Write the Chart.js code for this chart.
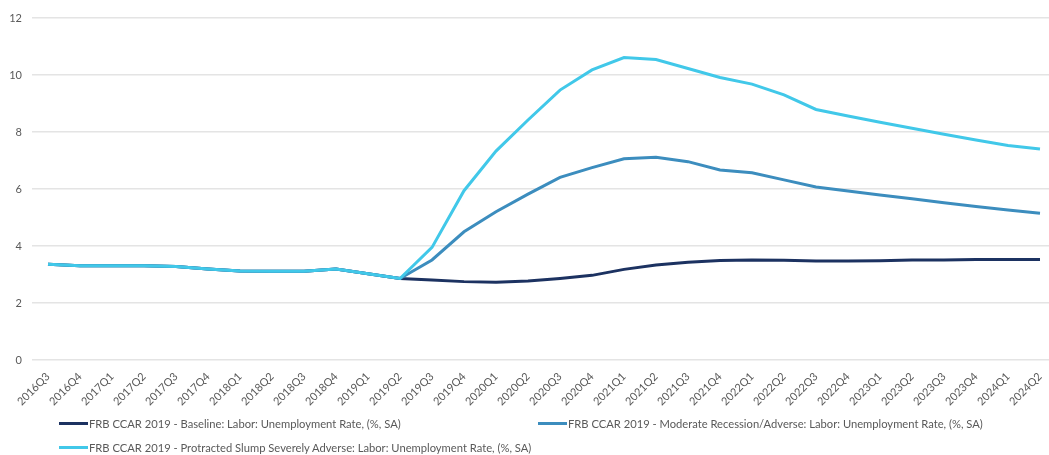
<!DOCTYPE html>
<html>
<head>
    <title>FRB CCAR 2019 Unemployment Rate Scenarios</title>
    <script src="https://cdn.jsdelivr.net/npm/chart.js"></script>
    <style>
        html, body {
            margin: 0;
            padding: 0;
            background: #ffffff;
            overflow: hidden;
        }

        .chart-wrap {
            position: relative;
            width: 1060px;
            height: 455px;
        }

        .chart-container {
            position: absolute;
            left: 0;
            top: 0;
            width: 1060px;
            height: 455px;
        }

        .legend-item {
            position: absolute;
            display: flex;
            align-items: center;
            font-family: Lato, "Open Sans", sans-serif;
            font-size: 11.2px;
            color: #595959;
            white-space: nowrap;
        }

        .legend-swatch {
            display: inline-block;
            width: 29px;
            height: 3px;
            margin-right: 1px;
        }
    </style>
</head>
<body>
<div class="chart-wrap">
    <div class="chart-container">
        <canvas id="unemploymentChart"></canvas>
    </div>
    <div id="legend"></div>
</div>
<script>
    const quarters = [
        '2016Q3', '2016Q4',
        '2017Q1', '2017Q2', '2017Q3', '2017Q4',
        '2018Q1', '2018Q2', '2018Q3', '2018Q4',
        '2019Q1', '2019Q2', '2019Q3', '2019Q4',
        '2020Q1', '2020Q2', '2020Q3', '2020Q4',
        '2021Q1', '2021Q2', '2021Q3', '2021Q4',
        '2022Q1', '2022Q2', '2022Q3', '2022Q4',
        '2023Q1', '2023Q2', '2023Q3', '2023Q4',
        '2024Q1', '2024Q2'
    ];

    // unemployment rate, %, one value per quarter
    const baseline = [
        3.36, 3.31, 3.31, 3.31, 3.28, 3.19, 3.12, 3.11, 3.11, 3.19,
        3.03, 2.86, 2.81, 2.75, 2.73, 2.77, 2.86, 2.97, 3.18, 3.33,
        3.43, 3.49, 3.51, 3.50, 3.47, 3.47, 3.48, 3.51, 3.51, 3.53,
        3.53, 3.53
    ];

    const moderateAdverse = [
        3.36, 3.31, 3.31, 3.31, 3.28, 3.19, 3.12, 3.11, 3.11, 3.19,
        3.03, 2.86, 3.51, 4.50, 5.20, 5.82, 6.41, 6.75, 7.06, 7.11,
        6.96, 6.67, 6.57, 6.32, 6.07, 5.93, 5.79, 5.66, 5.52, 5.39,
        5.26, 5.15
    ];

    const severelyAdverse = [
        3.36, 3.31, 3.31, 3.31, 3.28, 3.19, 3.12, 3.11, 3.11, 3.19,
        3.03, 2.86, 3.95, 5.94, 7.33, 8.42, 9.47, 10.18, 10.61, 10.54,
        10.23, 9.91, 9.68, 9.30, 8.79, 8.56, 8.34, 8.13, 7.92, 7.72,
        7.53, 7.40
    ];

    const seriesNames = [
        'FRB CCAR 2019 - Baseline: Labor: Unemployment Rate, (%, SA)',
        'FRB CCAR 2019 - Moderate Recession/Adverse: Labor: Unemployment Rate, (%, SA)',
        'FRB CCAR 2019 - Protracted Slump Severely Adverse: Labor: Unemployment Rate, (%, SA)'
    ];

    const seriesColors = ['#1c3261', '#3c8dbe', '#41c8e9'];

    const tickFont = { family: 'Lato, "Open Sans", sans-serif', size: 11 };

    function makeDataset(index, values, order) {
        return {
            label: seriesNames[index],
            data: values,
            borderColor: seriesColors[index],
            backgroundColor: seriesColors[index],
            borderWidth: 3,
            pointRadius: 0,
            fill: false,
            tension: 0,
            order: order
        };
    }

    const chart = new Chart(document.getElementById('unemploymentChart').getContext('2d'), {
        type: 'line',
        data: {
            labels: quarters,
            datasets: [
                makeDataset(0, baseline, 3),
                makeDataset(1, moderateAdverse, 2),
                makeDataset(2, severelyAdverse, 1)
            ]
        },
        options: {
            responsive: true,
            maintainAspectRatio: false,
            animation: false,
            layout: {
                // bottom room holds the legend under the quarter labels
                padding: { top: 18, right: 4, left: 0, bottom: 35 }
            },
            plugins: {
                legend: { display: false },
                tooltip: { enabled: false }
            },
            scales: {
                x: {
                    offset: true,
                    grid: { display: false },
                    border: { display: false },
                    ticks: {
                        autoSkip: false,
                        minRotation: 45,
                        maxRotation: 45,
                        padding: 2,
                        color: '#595959',
                        font: tickFont
                    },
                    afterFit: scale => { scale.height = 60; }
                },
                y: {
                    min: 0,
                    max: 12,
                    grid: {
                        color: '#e4e4e4',
                        lineWidth: 1.5,
                        drawTicks: false
                    },
                    border: { display: false },
                    ticks: {
                        stepSize: 2,
                        padding: 10,
                        color: '#595959',
                        font: tickFont
                    },
                    afterFit: scale => { scale.width = 32; }
                }
            }
        }
    });

    // legend laid out in two columns below the axis
    const legendSpots = [
        { left: 59, top: 417 },
        { left: 538, top: 417 },
        { left: 59, top: 441 }
    ];

    const legendEl = document.getElementById('legend');
    chart.data.datasets.forEach((ds, i) => {
        const item = document.createElement('div');
        item.className = 'legend-item';
        item.style.left = legendSpots[i].left + 'px';
        item.style.top = legendSpots[i].top + 'px';

        const swatch = document.createElement('span');
        swatch.className = 'legend-swatch';
        swatch.style.background = ds.borderColor;

        const text = document.createElement('span');
        text.textContent = ds.label;

        item.appendChild(swatch);
        item.appendChild(text);
        legendEl.appendChild(item);
    });
</script>
</body>
</html>
